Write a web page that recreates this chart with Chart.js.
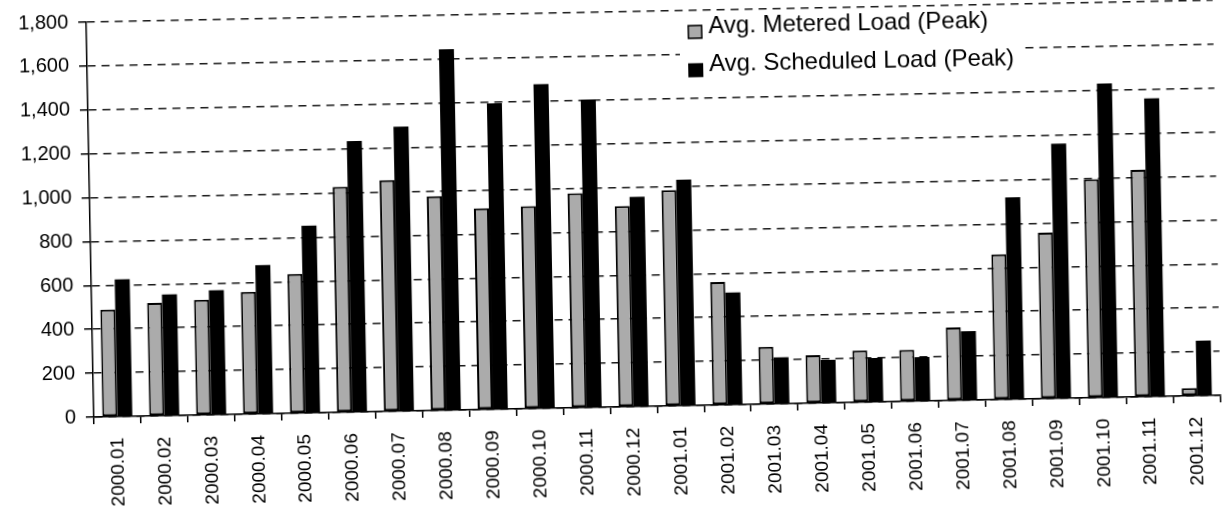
<!DOCTYPE html>
<html>
<head>
<meta charset="utf-8">
<script src="https://cdn.jsdelivr.net/npm/chart.js@4/dist/chart.umd.min.js"></script>
<style>
  html, body { margin: 0; padding: 0; background: #fff; overflow: hidden; }
  /* the source is a slightly skewed scan, so tilt the whole chart a little */
  #wrap { width: 1231px; height: 528px; transform: rotate(-1.11deg); }
</style>
</head>
<body>
<div id="wrap"><canvas id="loadChart" width="1231" height="528"></canvas></div>
<script>
  // Categories (year.month)
  const months = [
    '2000.01', '2000.02', '2000.03', '2000.04', '2000.05', '2000.06',
    '2000.07', '2000.08', '2000.09', '2000.10', '2000.11', '2000.12',
    '2001.01', '2001.02', '2001.03', '2001.04', '2001.05', '2001.06',
    '2001.07', '2001.08', '2001.09', '2001.10', '2001.11', '2001.12'
  ];

  // Series values
  const meteredLoad = [
    489, 515, 525, 557, 635, 1028, 1054, 976, 917, 923, 977, 915,
    983, 560, 261, 219, 236, 235, 333, 662, 757, 996, 1035, 35
  ];
  const scheduledLoad = [
    625, 553, 567, 678, 853, 1235, 1296, 1645, 1395, 1478, 1404, 956,
    1030, 511, 212, 196, 200, 201, 315, 920, 1161, 1431, 1359, 251
  ];

  // Y axis tick values
  const yTicks = [0, 200, 400, 600, 800, 1000, 1200, 1400, 1600, 1800];

  const seriesNames = ['Avg. Metered Load (Peak)', 'Avg. Scheduled Load (Peak)'];

  Chart.defaults.font.family = '"Liberation Sans", Arial, sans-serif';
  Chart.defaults.color = '#000';

  // Legend drawn inside the plot, on a white patch over the grid
  const innerLegend = {
    id: 'innerLegend',
    afterDraw(chart) {
      const c = chart.ctx;
      c.save();
      c.fillStyle = '#fff';
      c.fillRect(684, 15, 340, 71);
      c.font = '24px "Liberation Sans", Arial, sans-serif';
      c.textBaseline = 'middle';
      chart.data.datasets.forEach((ds, i) => {
        const y = 28.5 + i * 38.3;
        c.fillStyle = ds.backgroundColor;
        c.fillRect(692, y - 2, 15, 14);
        if (ds.borderWidth) {
          c.lineWidth = 1.5;
          c.strokeStyle = ds.borderColor;
          c.strokeRect(692.75, y - 1.25, 13.5, 12.5);
        }
        c.fillStyle = '#000';
        c.fillText(ds.label, 713, y);
      });
      c.restore();
    }
  };

  const ctx = document.getElementById('loadChart').getContext('2d');
  const loadChart = new Chart(ctx, {
    type: 'bar',
    data: {
      labels: months,
      datasets: [
        {
          label: seriesNames[0],
          data: meteredLoad,
          backgroundColor: '#ababab',
          borderColor: '#000',
          borderWidth: 2,
          borderSkipped: false
        },
        {
          label: seriesNames[1],
          data: scheduledLoad,
          backgroundColor: '#000',
          borderWidth: 0
        }
      ]
    },
    options: {
      responsive: false,
      animation: false,
      devicePixelRatio: 1,
      layout: { padding: { top: 12, right: 1, left: 0, bottom: 0 } },
      datasets: {
        bar: { categoryPercentage: 0.64, barPercentage: 1.0 }
      },
      plugins: {
        legend: { display: false },
        tooltip: { enabled: false }
      },
      scales: {
        x: {
          grid: {
            drawOnChartArea: false,
            drawTicks: true,
            tickLength: 7,
            color: '#000',
            lineWidth: 1.5
          },
          border: { display: true, color: '#000', width: 1.5 },
          ticks: {
            autoSkip: false,
            maxRotation: 90,
            minRotation: 90,
            padding: 14,
            font: { size: 19 }
          },
          afterFit: (scale) => { scale.height = 121; }
        },
        y: {
          min: 0,
          max: 1800,
          afterBuildTicks: (scale) => {
            scale.ticks = yTicks.map(v => ({ value: v }));
          },
          grid: {
            color: '#1a1a1a',
            lineWidth: 1.5,
            tickLength: 8,
            tickColor: '#000',
            tickWidth: 1.5
          },
          border: { display: true, color: '#000', width: 1.5, dash: [8, 6] },
          ticks: {
            padding: 10,
            font: { size: 20 },
            callback: (v) => v.toLocaleString('en-US')
          },
          afterFit: (scale) => {
            scale.width = 91;
            // keep the top gridline close to the canvas edge like the original
            scale.paddingTop = 0;
            scale.paddingBottom = 0;
          }
        }
      }
    },
    plugins: [innerLegend]
  });
</script>
</body>
</html>
